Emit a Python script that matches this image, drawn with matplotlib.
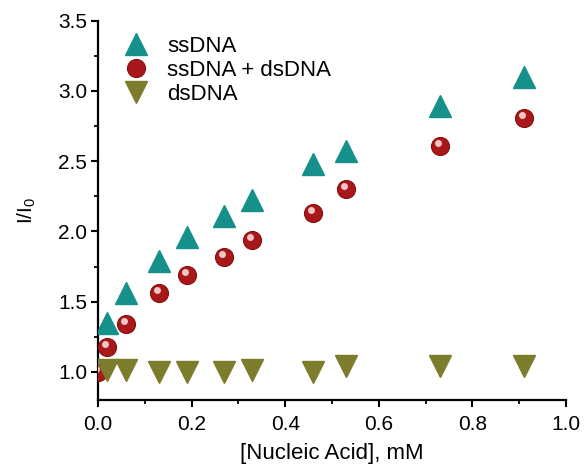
import matplotlib
matplotlib.use('Agg')
import matplotlib.pyplot as plt
import matplotlib.transforms as mtransforms

plt.rcParams['font.family'] = ['Liberation Sans', 'DejaVu Sans']

# data
x_ss = [0.02, 0.06, 0.13, 0.19, 0.27, 0.33, 0.46, 0.53, 0.73, 0.91]
y_ss = [1.35, 1.56, 1.79, 1.96, 2.11, 2.22, 2.48, 2.57, 2.89, 3.10]

x_mix = [0.0, 0.02, 0.06, 0.13, 0.19, 0.27, 0.33, 0.46, 0.53, 0.73, 0.91]
y_mix = [1.0, 1.18, 1.34, 1.56, 1.69, 1.82, 1.94, 2.13, 2.30, 2.61, 2.81]

x_ds = [0.02, 0.06, 0.13, 0.19, 0.27, 0.33, 0.46, 0.53, 0.73, 0.91]
y_ds = [1.01, 1.01, 1.0, 1.0, 1.0, 1.01, 1.0, 1.04, 1.04, 1.04]

labels = ['ssDNA', 'ssDNA + dsDNA', 'dsDNA']

teal = '#16908b'
red = '#a8181a'
olive = '#7d7b2c'

fig = plt.figure(figsize=(5.84, 4.70), dpi=100)
ax = fig.add_axes([0.168, 0.149, 0.801, 0.807])

ax.plot(x_ss, y_ss, ls='none', marker='^', ms=16, color=teal, mec=teal, label=labels[0], zorder=3)
ax.plot(x_mix, y_mix, ls='none', marker='o', ms=13, color=red, mec='#8a1010', mew=0.8, label=labels[1], zorder=3)
# sphere highlight
hl = ax.transData + mtransforms.ScaledTranslation(-1.5 / 72, 2 / 72, fig.dpi_scale_trans)
ax.plot(x_mix, y_mix, ls='none', marker='o', ms=5, color='#f3c6c6', mec='none', transform=hl, zorder=4)
ax.plot(x_ds, y_ds, ls='none', marker='v', ms=16, color=olive, mec=olive, label=labels[2], zorder=3)

ax.set_xlim(0, 1.0)
ax.set_ylim(0.8, 3.5)
ax.set_xticks([0.0, 0.2, 0.4, 0.6, 0.8, 1.0])
ax.set_xticks([0.1, 0.3, 0.5, 0.7, 0.9], minor=True)
ax.set_yticks([1.0, 1.5, 2.0, 2.5, 3.0, 3.5])
ax.set_yticks([1.25, 1.75, 2.25, 2.75, 3.25], minor=True)
ax.xaxis.set_major_formatter(plt.FormatStrFormatter('%.1f'))
ax.yaxis.set_major_formatter(plt.FormatStrFormatter('%.1f'))

for s in ['top', 'right']:
    ax.spines[s].set_visible(False)
for s in ['left', 'bottom']:
    ax.spines[s].set_linewidth(1.6)
ax.tick_params(which='major', direction='out', length=5, width=1.5, labelsize=15, pad=3)
ax.tick_params(axis='x', which='major', pad=6)
ax.tick_params(which='minor', direction='out', length=3, width=1.3)

ax.set_xlabel('[Nucleic Acid], mM', fontsize=16, labelpad=6)
ax.set_ylabel('I/I$_\\mathregular{0}$', fontsize=15, labelpad=14)

ax.legend(loc='upper left', frameon=False, fontsize=16, handletextpad=0.4,
          labelspacing=0.12, borderaxespad=0.3, bbox_to_anchor=(0.0, 1.0))

fig.savefig('out.png', dpi=100)
